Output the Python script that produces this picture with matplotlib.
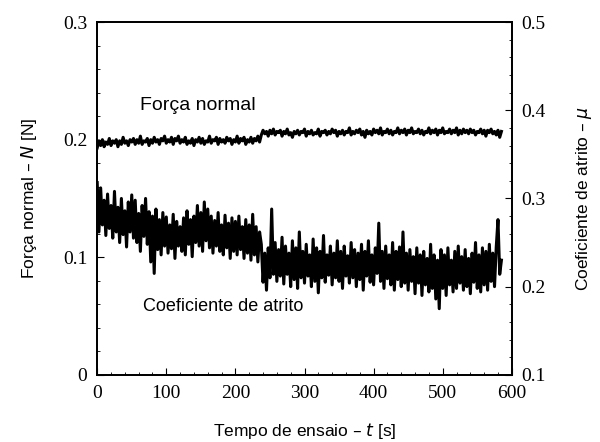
import numpy as np
import matplotlib.pyplot as plt
from matplotlib.ticker import MultipleLocator

# força normal (N), amostrada a cada 2.5 s
normal_force = [
    0.193, 0.199, 0.195, 0.200, 0.194, 0.198, 0.196, 0.201, 0.195, 0.199,
    0.197, 0.200, 0.194, 0.199, 0.196, 0.202, 0.197, 0.199, 0.195, 0.200,
    0.198, 0.201, 0.196, 0.200, 0.197, 0.203, 0.196, 0.199, 0.198, 0.201,
    0.195, 0.200, 0.197, 0.202, 0.198, 0.200, 0.196, 0.201, 0.199, 0.203,
    0.197, 0.200, 0.198, 0.202, 0.196, 0.201, 0.199, 0.203, 0.197, 0.200,
    0.198, 0.202, 0.196, 0.199, 0.197, 0.201, 0.195, 0.200, 0.198, 0.202,
    0.197, 0.201, 0.196, 0.199, 0.198, 0.203, 0.197, 0.200, 0.199, 0.202,
    0.196, 0.201, 0.198, 0.200, 0.197, 0.202, 0.199, 0.201, 0.196, 0.200,
    0.198, 0.203, 0.197, 0.201, 0.199, 0.202, 0.196, 0.200, 0.198, 0.202,
    0.197, 0.201, 0.199, 0.203, 0.198,
    0.204, 0.208, 0.205, 0.207, 0.203, 0.208, 0.205, 0.209, 0.204, 0.207,
    0.206, 0.208, 0.203, 0.207, 0.205, 0.209, 0.204, 0.206, 0.202, 0.207,
    0.205, 0.208, 0.204, 0.207, 0.206, 0.209, 0.203, 0.207, 0.205, 0.208,
    0.204, 0.206, 0.205, 0.209, 0.203, 0.207, 0.206, 0.208, 0.204, 0.207,
    0.205, 0.209, 0.206, 0.208, 0.203, 0.207, 0.205, 0.208, 0.204, 0.207,
    0.206, 0.210, 0.204, 0.207, 0.205, 0.208, 0.206, 0.209, 0.204, 0.207,
    0.202, 0.208, 0.205, 0.207, 0.204, 0.209, 0.206, 0.208, 0.205, 0.210,
    0.204, 0.207, 0.206, 0.209, 0.205, 0.208, 0.204, 0.207, 0.206, 0.210,
    0.205, 0.208, 0.206, 0.209, 0.204, 0.208, 0.206, 0.210, 0.205, 0.207,
    0.206, 0.209, 0.205, 0.208, 0.204, 0.207, 0.206, 0.210, 0.205, 0.208,
    0.206, 0.209, 0.204, 0.208, 0.206, 0.210, 0.205, 0.207, 0.206, 0.209,
    0.205, 0.208, 0.206, 0.210, 0.204, 0.208, 0.205, 0.209, 0.206, 0.208,
    0.205, 0.209, 0.206, 0.208, 0.204, 0.207, 0.206, 0.209, 0.205, 0.208,
    0.203, 0.208, 0.206, 0.209, 0.205, 0.207, 0.204, 0.208, 0.202, 0.207,
]

# coeficiente de atrito, amostrado a cada 2.5 s
mu = [
    0.318, 0.262, 0.312, 0.270, 0.298, 0.258, 0.305, 0.266, 0.292, 0.255,
    0.308, 0.262, 0.290, 0.250, 0.300, 0.259, 0.286, 0.245, 0.296, 0.262,
    0.304, 0.255, 0.298, 0.250, 0.283, 0.240, 0.292, 0.257, 0.300, 0.248,
    0.285, 0.228, 0.280, 0.215, 0.288, 0.242, 0.276, 0.236, 0.284, 0.246,
    0.279, 0.238, 0.270, 0.243, 0.282, 0.232, 0.274, 0.246, 0.268, 0.240,
    0.278, 0.236, 0.286, 0.248, 0.276, 0.234, 0.280, 0.250, 0.292, 0.246,
    0.284, 0.240, 0.296, 0.252, 0.288, 0.244, 0.280, 0.238, 0.275, 0.246,
    0.284, 0.240, 0.270, 0.236, 0.281, 0.244, 0.272, 0.232, 0.278, 0.240,
    0.274, 0.236, 0.280, 0.242, 0.268, 0.232, 0.276, 0.238, 0.270, 0.230,
    0.282, 0.236, 0.268, 0.228, 0.262,
    0.248, 0.205, 0.238, 0.196, 0.244, 0.210, 0.288, 0.214, 0.250, 0.206,
    0.242, 0.212, 0.256, 0.203, 0.246, 0.214, 0.238, 0.200, 0.252, 0.208,
    0.244, 0.198, 0.262, 0.210, 0.240, 0.204, 0.248, 0.212, 0.236, 0.200,
    0.254, 0.206, 0.244, 0.193, 0.240, 0.210, 0.258, 0.205, 0.236, 0.213,
    0.246, 0.202, 0.238, 0.210, 0.252, 0.206, 0.240, 0.198, 0.246, 0.212,
    0.235, 0.204, 0.250, 0.210, 0.242, 0.200, 0.238, 0.208, 0.248, 0.196,
    0.240, 0.212, 0.252, 0.205, 0.236, 0.202, 0.244, 0.215, 0.272, 0.206,
    0.240, 0.198, 0.246, 0.209, 0.236, 0.202, 0.250, 0.196, 0.240, 0.208,
    0.245, 0.200, 0.262, 0.204, 0.238, 0.196, 0.242, 0.206, 0.234, 0.192,
    0.244, 0.204, 0.236, 0.190, 0.240, 0.202, 0.232, 0.194, 0.248, 0.198,
    0.236, 0.186, 0.230, 0.175, 0.242, 0.198, 0.236, 0.190, 0.244, 0.202,
    0.230, 0.194, 0.240, 0.198, 0.246, 0.204, 0.234, 0.196, 0.242, 0.200,
    0.232, 0.192, 0.238, 0.205, 0.250, 0.198, 0.236, 0.194, 0.244, 0.202,
    0.240, 0.196, 0.248, 0.206, 0.238, 0.200, 0.245, 0.276, 0.214, 0.230,
]

t = np.arange(len(mu)) * 2.5

serif = 'Liberation Serif'
sans = 'Liberation Sans'

fig = plt.figure(figsize=(6, 4.42), dpi=100)
ax = fig.add_axes([0.162, 0.152, 0.691, 0.798])
ax2 = ax.twinx()

ax.plot(t, normal_force, color='black', lw=2.2)
ax2.plot(t, mu, color='black', lw=2.2)

ax.set_xlim(0, 600)
ax.set_ylim(0, 0.3)
ax2.set_ylim(0.1, 0.5)

ax.xaxis.set_major_locator(MultipleLocator(100))
ax.xaxis.set_minor_locator(MultipleLocator(20))
ax.yaxis.set_major_locator(MultipleLocator(0.1))
ax.yaxis.set_minor_locator(MultipleLocator(0.02))
ax2.yaxis.set_major_locator(MultipleLocator(0.1))
ax2.yaxis.set_minor_locator(MultipleLocator(0.02))

ax.set_xticklabels([f'{v:g}' for v in ax.get_xticks()])
ax.set_yticklabels([f'{v:g}' for v in ax.get_yticks()])
ax2.set_yticklabels([f'{v:g}' for v in ax2.get_yticks()])

for a in (ax, ax2):
    a.tick_params(which='major', direction='in', length=5, width=0.8, labelsize=14, pad=7)
    a.tick_params(which='minor', direction='in', length=2.5, width=0.6)
    for lab in a.get_xticklabels() + a.get_yticklabels():
        lab.set_fontfamily(serif)
    for s in a.spines.values():
        s.set_linewidth(1.3)

ax.set_xlabel('Tempo de ensaio – $\\it{t}$ [s]', fontsize=12.5, family=sans, labelpad=14)
ax.set_ylabel('Força normal – $\\it{N}$ [N]', fontsize=12.5, family=sans, labelpad=17)
ax2.set_ylabel('Coeficiente de atrito – $\\mu$', fontsize=12.5, family=sans, labelpad=20)

ax.text(62, 0.229, 'Força normal', fontsize=14, family=sans, va='center')
ax.text(66, 0.058, 'Coeficiente de atrito', fontsize=13, family=sans, va='center')

fig.savefig('out.png', dpi=100)
